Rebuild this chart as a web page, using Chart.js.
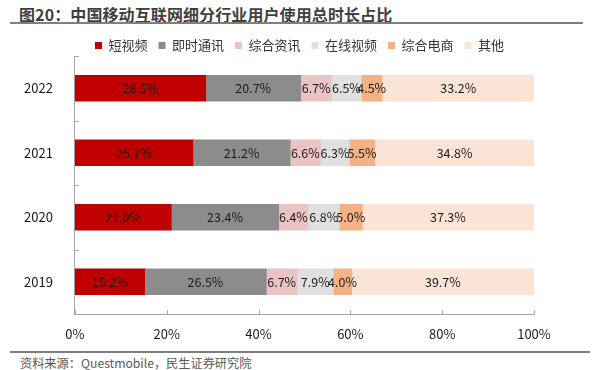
<!DOCTYPE html>
<html>
<head>
<meta charset="utf-8">
<script src="https://cdn.jsdelivr.net/npm/chart.js@4/dist/chart.umd.min.js"></script>
<style>
  body { margin: 0; width: 599px; height: 370px; position: relative; background: #fff; overflow: hidden;
    font-family: "Noto Sans CJK SC", "Noto Sans", sans-serif; }
  #title { position: absolute; left: 19px; top: 2px; font-size: 16px; letter-spacing: 0.1px; font-weight: bold; color: #404040; white-space: nowrap; }
  #titleLine { position: absolute; left: 10px; top: 22px; width: 573px; height: 2px; background: #7f7f7f; }
  #srcLine { position: absolute; left: 10px; top: 351px; width: 580px; height: 2px; background: #7f7f7f; }
  #source { position: absolute; left: 20px; top: 354px; font-size: 12.2px; color: #595959; white-space: nowrap; }
  #wrap { position: absolute; left: 0; top: 28px; width: 599px; height: 314px; }
</style>
</head>
<body>
<div id="title">图20：中国移动互联网细分行业用户使用总时长占比</div>
<div id="titleLine"></div>
<div id="wrap"><canvas id="chart"></canvas></div>
<div id="srcLine"></div>
<div id="source">资料来源：Questmobile，民生证券研究院</div>
<script>
const years = ["2022", "2021", "2020", "2019"];
const shortVideo = [28.5, 25.7, 21.0, 15.2];
const instantMsg = [20.7, 21.2, 23.4, 26.5];
const newsInfo = [6.7, 6.6, 6.4, 6.7];
const onlineVideo = [6.5, 6.3, 6.8, 7.9];
const eCommerce = [4.5, 5.5, 5.0, 4.0];
const others = [33.2, 34.8, 37.3, 39.7];
const xTicks = [0, 20, 40, 60, 80, 100];

// value labels centred in each segment
const segmentLabels = {
  id: "segmentLabels",
  afterDatasetsDraw(chart) {
    const ctx = chart.ctx;
    ctx.save();
    ctx.font = "12.5px 'Noto Sans CJK SC', sans-serif";
    ctx.fillStyle = "#1a1a1a";
    ctx.textAlign = "center";
    ctx.textBaseline = "middle";
    chart.data.datasets.forEach((ds, i) => {
      chart.getDatasetMeta(i).data.forEach((bar, j) => {
        const cx = (bar.x + bar.base) / 2;
        ctx.fillText(ds.data[j].toFixed(1) + "%", cx, bar.y);
      });
    });
    ctx.restore();
  },
};

// short tick marks pointing into the plot, like the original
const innerTicks = {
  id: "innerTicks",
  afterDraw(chart) {
    const ctx = chart.ctx;
    const xs = chart.scales.x;
    const ys = chart.scales.y;
    const area = chart.chartArea;
    ctx.save();
    ctx.strokeStyle = "#a6a6a6";
    ctx.lineWidth = 1;
    ctx.beginPath();
    xTicks.forEach((v) => {
      const px = Math.round(xs.getPixelForValue(v)) + 0.5;
      ctx.moveTo(px, area.bottom);
      ctx.lineTo(px, area.bottom - 4);
    });
    for (let k = 0; k <= years.length; k++) {
      const py = Math.round(ys.getPixelForValue(k - 0.5)) + 0.5;
      ctx.moveTo(area.left, py);
      ctx.lineTo(area.left + 4, py);
    }
    ctx.stroke();
    ctx.restore();
  },
};

// legend: a bit shorter box, and centred on the whole canvas
const legendFit = {
  id: "legendFit",
  afterInit(chart) {
    const lg = chart.legend;
    const orig = lg.fit;
    lg.fit = function () {
      orig.call(this);
      this.height -= 6;
    };
  },
  afterLayout(chart) {
    chart.legend.left = 0;
    chart.legend.right = chart.width;
  },
};

const ctx = document.getElementById("chart").getContext("2d");
const chart = new Chart(ctx, {
  type: "bar",
  data: {
    labels: years,
    datasets: [
      { label: "短视频", data: shortVideo, backgroundColor: "#c00000" },
      { label: "即时通讯", data: instantMsg, backgroundColor: "#8c8c8c" },
      { label: "综合资讯", data: newsInfo, backgroundColor: "#ebc3c3" },
      { label: "在线视频", data: onlineVideo, backgroundColor: "#e0e0e0" },
      { label: "综合电商", data: eCommerce, backgroundColor: "#f4b183" },
      { label: "其他", data: others, backgroundColor: "#fae4d8" },
    ],
  },
  options: {
    indexAxis: "y",
    responsive: true,
    maintainAspectRatio: false,
    animation: false,
    barThickness: 26,
    layout: { padding: { left: 10, right: 65, top: 0, bottom: 0 } },
    plugins: {
      legend: {
        display: true,
        labels: {
          boxWidth: 7,
          boxHeight: 7,
          padding: 11,
          color: "#333",
          font: { size: 13, family: "'Noto Sans CJK SC', sans-serif" },
        },
      },
      tooltip: { enabled: false },
    },
    scales: {
      x: {
        stacked: true,
        min: 0,
        max: 100,
        border: { display: true, color: "#a6a6a6" },
        grid: { display: false },
        afterBuildTicks: (scale) => {
          scale.ticks = xTicks.map((v) => ({ value: v }));
        },
        afterFit: (scale) => {
          scale.height = 28;
        },
        ticks: {
          color: "#1a1a1a",
          padding: 4,
          font: { size: 13, family: "'Noto Sans CJK SC', sans-serif" },
          callback: (v) => v + "%",
        },
      },
      y: {
        stacked: true,
        border: { display: true, color: "#a6a6a6" },
        grid: { display: false },
        ticks: {
          color: "#1a1a1a",
          padding: 14,
          font: { size: 13, family: "'Noto Sans CJK SC', sans-serif" },
        },
      },
    },
  },
  plugins: [segmentLabels, innerTicks, legendFit],
});
</script>
</body>
</html>
